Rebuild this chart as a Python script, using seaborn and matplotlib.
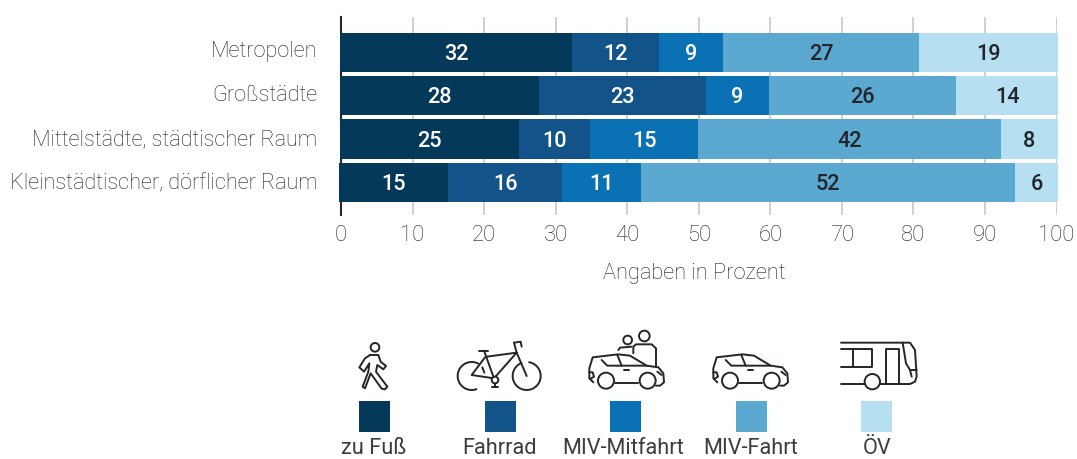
import numpy as np
import pandas as pd
import matplotlib
matplotlib.use("Agg")
import matplotlib.pyplot as plt
import seaborn as sns
from matplotlib.patches import Circle, Rectangle
from matplotlib.transforms import ScaledTranslation

regions = ["Metropolen", "Großstädte", "Mittelstädte, städtischer Raum", "Kleinstädtischer, dörflicher Raum"]
modes = ["zu Fuß", "Fahrrad", "MIV-Mitfahrt", "MIV-Fahrt", "ÖV"]
colors = ["#05395A", "#12548A", "#0A72B4", "#5BA8D0", "#B6DFF2"]
text_colors = ["white", "white", "white", "#222529", "#222529"]

# printed labels
zu_fuss_lbl = [32, 28, 25, 15]
fahrrad_lbl = [12, 23, 10, 16]
mitfahrt_lbl = [9, 9, 15, 11]
fahrt_lbl = [27, 26, 42, 52]
oev_lbl = [19, 14, 8, 6]
# drawn lengths
start = [-0.1, -0.1, -0.1, -0.25]
zu_fuss = [32.4, 27.8, 25.0, 15.25]
fahrrad = [12.1, 23.3, 9.9, 15.9]
mitfahrt = [9.0, 8.8, 15.1, 11.0]
fahrt = [27.4, 26.2, 42.3, 52.3]
oev = [19.4, 14.2, 8.0, 6.0]

sns.set_theme(style="white")
plt.rcParams["font.family"] = ["Roboto", "DejaVu Sans"]

W, H = 1077, 459
TXT = "#3a3d41"
LIGHT_TXT = "#1f2124"
fig = plt.figure(figsize=(W / 100, H / 100), dpi=100)
ax = fig.add_axes([341 / W, 1 - 215 / H, (1056.5 - 341) / W, (215 - 17) / H])

left = np.array(start, dtype=float)
series = [zu_fuss, fahrrad, mitfahrt, fahrt, oev]
labels = [zu_fuss_lbl, fahrrad_lbl, mitfahrt_lbl, fahrt_lbl, oev_lbl]
for name, vals, lbls, col, tc in zip(modes, series, labels, colors, text_colors):
    df = pd.DataFrame({"region": regions, "value": vals})
    sns.barplot(data=df, x="value", y="region", left=left, color=col, width=39.5 / 43.4,
                saturation=1, errorbar=None, linewidth=0, ax=ax, zorder=3)
    for i, (v, l) in enumerate(zip(vals, lbls)):
        ax.text(left[i] + v / 2, i + 0.05, str(l), ha="center", va="center", color=tc,
                fontsize=15.6, fontweight="medium", zorder=4)
    left = left + np.array(vals)
for p in ax.patches:
    p.set_clip_on(False)

ax.set_xlim(0, 100)
ax.set_ylim(3.749, -0.813)
ax.set_xlabel("Angaben in Prozent", fontsize=15.7, color=LIGHT_TXT, fontweight="light")
ax.xaxis.set_label_coords((694.5 - 341) / (1056.5 - 341), -(273 - 215) / 198, transform=ax.transAxes)
ax.xaxis.label.set_va("center")
ax.set_ylabel("")
ax.set_xticks(range(0, 101, 10))
ax.tick_params(axis="x", length=0, pad=7, labelsize=15.8, labelcolor=LIGHT_TXT)
ax.tick_params(axis="y", length=0, pad=17, labelsize=15.6, labelcolor=LIGHT_TXT)
label_lift = [2.8, 2.2, 1.8, 0.8]
for t in ax.get_xticklabels():
    t.set_fontweight("light")
for t, lift in zip(ax.get_yticklabels(), label_lift):
    t.set_fontweight("light")
    t.set_transform(t.get_transform() + ScaledTranslation(0, lift / 100, fig.dpi_scale_trans))
ax.grid(axis="x", color="#c8c8c8", linewidth=1.2, zorder=0)
ax.set_axisbelow(True)
for s in ["top", "right", "bottom"]:
    ax.spines[s].set_visible(False)
ax.spines["left"].set_color("#222529")
ax.spines["left"].set_linewidth(1.5)
for s in ax.spines.values():
    s.set_zorder(1)

# overlay in pixel coordinates for the legend keys and icons
ov = fig.add_axes([0, 0, 1, 1])
ov.set_xlim(0, W)
ov.set_ylim(H, 0)
ov.axis("off")
ov.patch.set_alpha(0)

key_x = [359, 484.5, 610, 736, 861]
lab_x = [374, 500, 623, 751, 877]
for x, lx, c, m in zip(key_x, lab_x, colors, modes):
    ov.add_patch(Rectangle((x, 401), 31, 31, color=c, lw=0))
    ov.text(lx, 454, m, ha="center", va="baseline", fontsize=15.7, color=TXT)

ic = "#222529"
def line(pts, ox, oy, lw=1.4):
    a = np.array(pts, dtype=float) / 3
    ov.plot(a[:, 0] + ox, a[:, 1] + oy, color=ic, lw=lw, solid_capstyle="round", solid_joinstyle="round")
def circ(x, y, r, ox, oy, lw=1.4):
    ov.add_patch(Circle((x / 3 + ox, y / 3 + oy), r / 3, fc="white", ec=ic, lw=lw, zorder=3))
def arc(x, y, r, a0, a1, ox, oy):
    t = np.radians(np.arange(a0, a1 + 1, 4))
    line(np.c_[x + r * np.cos(t), y + r * np.sin(t)], ox, oy)
def car(ox, oy):
    line([(40, 172), (28, 160), (28, 130), (38, 97), (115, 88), (150, 92), (200, 122), (235, 127),
          (250, 145), (252, 172), (240, 182), (228, 182)], ox, oy)
    line([(105, 175), (175, 175)], ox, oy)
    line([(65, 105), (82, 122), (200, 122)], ox, oy)
    line([(112, 90), (125, 122)], ox, oy)
    line([(133, 135), (148, 135)], ox, oy)
    line([(28, 142), (38, 142), (42, 155), (30, 162)], ox, oy)
    line([(232, 140), (245, 150)], ox, oy)
    circ(78, 167, 24, ox, oy)
    circ(203, 167, 24, ox, oy)

# walker
ox, oy = 350, 330
circ(75, 52, 13, ox, oy)
line([(60, 75), (85, 75), (92, 95), (108, 108), (100, 118), (82, 105), (78, 125), (112, 170), (105, 178),
      (95, 176), (62, 130), (45, 175), (38, 170), (55, 125), (58, 100), (42, 125), (28, 112), (45, 85), (60, 75)], ox, oy)
# bike
arc(365, 138, 42, 70, 300, ox, oy)
arc(530, 138, 42, -80, 250, ox, oy)
line([(388, 62), (415, 62)], ox, oy)
line([(402, 62), (432, 145)], ox, oy)
line([(410, 80), (500, 68)], ox, oy)
line([(500, 68), (432, 145), (365, 135), (405, 82)], ox, oy)
line([(500, 68), (530, 138)], ox, oy)
line([(492, 38), (500, 68)], ox, oy)
line([(492, 38), (512, 35), (515, 50)], ox, oy)
line([(397, 112), (403, 128)], ox, oy)
circ(435, 150, 10, ox, oy)
line([(435, 160), (435, 170)], ox, oy)
line([(425, 170), (445, 170)], ox, oy)
# car with two passengers, then car
ox, oy = 580, 325
car(ox, oy)
circ(143, 45, 13, ox, oy)
circ(193, 33, 16, ox, oy)
line([(115, 75), (120, 68), (155, 65)], ox, oy)
line([(160, 85), (160, 65), (168, 58), (215, 58), (228, 70), (228, 122)], ox, oy)
car(704, 325)
# bus
ox, oy = 830, 330
line([(33, 38), (240, 38), (255, 60), (260, 140), (255, 155), (240, 162), (150, 162)], ox, oy)
line([(33, 162), (105, 162)], ox, oy)
line([(33, 58), (127, 58), (127, 110), (33, 110)], ox, oy)
line([(70, 58), (70, 110)], ox, oy)
line([(167, 162), (167, 58), (207, 58), (207, 162)], ox, oy)
line([(218, 38), (228, 100), (240, 120), (260, 120)], ox, oy)
line([(240, 120), (245, 140)], ox, oy)
circ(127, 155, 23, ox, oy)

fig.savefig("out.png", dpi=100)
